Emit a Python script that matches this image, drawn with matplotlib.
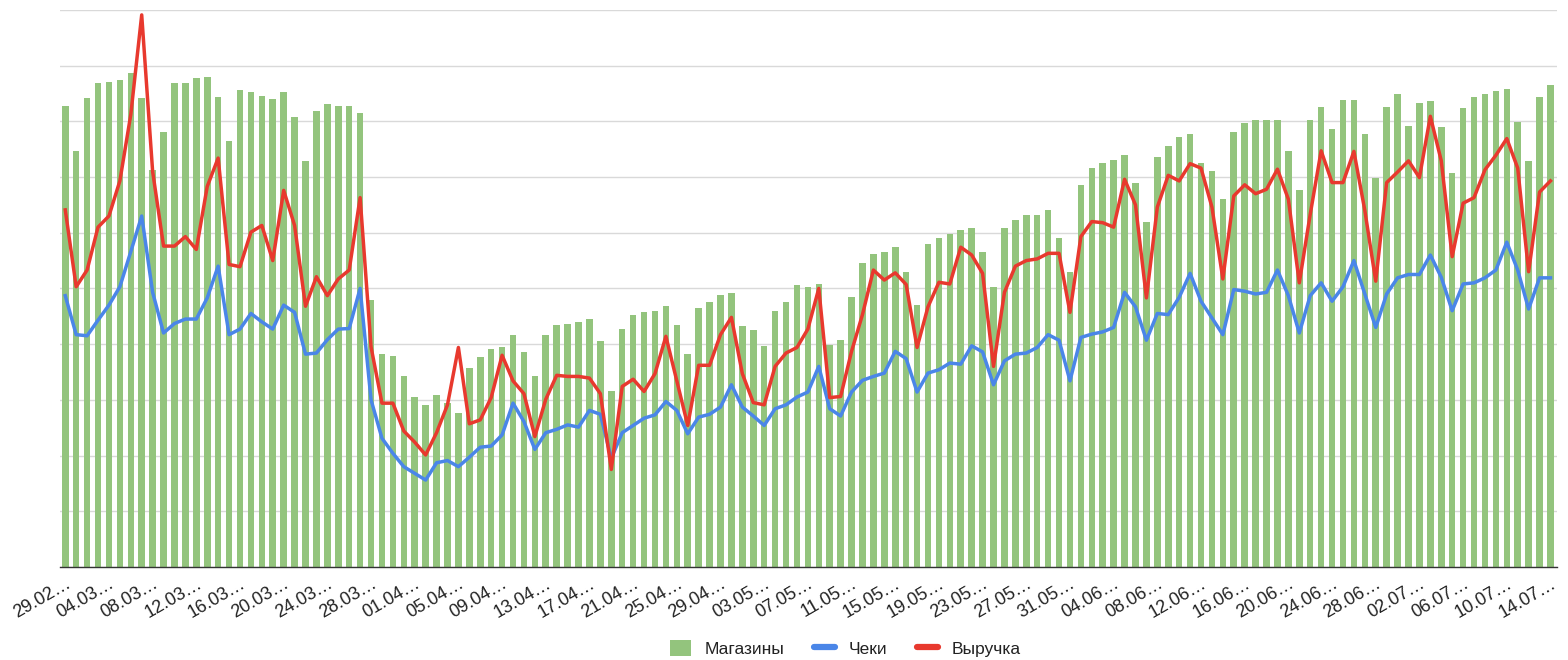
import datetime as dt

import matplotlib
matplotlib.use("Agg")
import matplotlib.pyplot as plt
from matplotlib.patches import Patch
from matplotlib.lines import Line2D

plt.rcParams["font.family"] = ["Liberation Sans", "DejaVu Sans"]

# daily values from 29.02 to 14.07, in gridline units (0..10)
start = dt.date(2020, 2, 29)

stores = [
    8.28, 7.46, 8.42, 8.68, 8.71, 8.75, 8.87, 8.42, 7.13, 7.81, 8.68, 8.68, 8.77, 8.80, 8.44, 7.65, 8.57,
    8.52, 8.46, 8.40, 8.52, 8.08, 7.28, 8.18, 8.31, 8.28, 8.28, 8.15, 4.79, 3.82, 3.79, 3.42, 3.05, 2.91,
    3.09, 2.95, 2.77, 3.57, 3.77, 3.92, 3.94, 4.17, 3.86, 3.42, 4.17, 4.34, 4.37, 4.39, 4.45, 4.06, 3.16,
    4.28, 4.53, 4.57, 4.60, 4.68, 4.34, 3.82, 4.65, 4.75, 4.88, 4.91, 4.32, 4.25, 3.97, 4.60, 4.75, 5.06,
    5.03, 5.08, 3.98, 4.08, 4.85, 5.45, 5.61, 5.65, 5.74, 5.30, 4.71, 5.80, 5.91, 5.98, 6.05, 6.08, 5.66,
    5.03, 6.08, 6.22, 6.31, 6.31, 6.40, 5.90, 5.30, 6.86, 7.16, 7.25, 7.31, 7.39, 6.89, 6.20, 7.36, 7.56,
    7.71, 7.77, 7.26, 7.11, 6.60, 7.81, 7.97, 8.03, 8.03, 8.03, 7.46, 6.76, 8.03, 8.26, 7.86, 8.39,
    8.39, 7.78, 6.99, 8.26, 8.49, 7.91, 8.32, 8.37, 7.89, 7.08, 8.24, 8.44, 8.49, 8.54, 8.58, 7.99, 7.29, 8.44, 8.66,
]

receipts = [
    4.87, 4.17, 4.15, 4.43, 4.70, 5.03, 5.66, 6.30, 4.93, 4.20, 4.37, 4.45, 4.45, 4.83, 5.40, 4.17, 4.27,
    4.55, 4.40, 4.27, 4.70, 4.57, 3.82, 3.84, 4.08, 4.27, 4.28, 5.00, 3.00, 2.31, 2.04, 1.80, 1.68, 1.56,
    1.87, 1.91, 1.80, 1.97, 2.15, 2.17, 2.37, 2.94, 2.61, 2.11, 2.41, 2.47, 2.55, 2.51, 2.81, 2.74, 1.95,
    2.41, 2.54, 2.67, 2.73, 2.97, 2.81, 2.39, 2.69, 2.74, 2.87, 3.27, 2.87, 2.71, 2.54, 2.84, 2.91, 3.05,
    3.14, 3.60, 2.84, 2.71, 3.14, 3.35, 3.42, 3.48, 3.87, 3.74, 3.14, 3.48, 3.54, 3.66, 3.64, 3.97, 3.86,
    3.27, 3.70, 3.82, 3.84, 3.94, 4.17, 4.07, 3.34, 4.12, 4.18, 4.22, 4.30, 4.93, 4.67, 4.07, 4.55, 4.53,
    4.84, 5.27, 4.77, 4.47, 4.17, 4.98, 4.95, 4.90, 4.93, 5.33, 4.87, 4.20, 4.87, 5.10, 4.77, 5.03,
    5.50, 4.90, 4.30, 4.90, 5.19, 5.25, 5.25, 5.60, 5.20, 4.60, 5.08, 5.10, 5.19, 5.33, 5.83, 5.33, 4.63, 5.19, 5.19,
]

revenue = [
    6.41, 5.03, 5.33, 6.10, 6.30, 6.93, 8.12, 9.91, 7.10, 5.76, 5.76, 5.93, 5.70, 6.83, 7.34, 5.43, 5.39,
    6.01, 6.13, 5.50, 6.76, 6.13, 4.68, 5.21, 4.87, 5.17, 5.33, 6.63, 3.95, 2.94, 2.94, 2.44, 2.24, 2.01,
    2.41, 2.91, 3.94, 2.57, 2.64, 3.04, 3.80, 3.34, 3.11, 2.34, 3.01, 3.44, 3.42, 3.42, 3.39, 3.11, 1.75,
    3.24, 3.37, 3.15, 3.47, 4.14, 3.34, 2.54, 3.62, 3.62, 4.17, 4.48, 3.47, 2.95, 2.91, 3.60, 3.84, 3.94,
    4.27, 5.00, 3.04, 3.06, 3.87, 4.53, 5.33, 5.15, 5.28, 5.07, 3.94, 4.67, 5.11, 5.08, 5.74, 5.60, 5.27,
    3.60, 4.93, 5.40, 5.50, 5.53, 5.63, 5.63, 4.57, 5.93, 6.20, 6.18, 6.10, 6.96, 6.50, 4.83, 6.46, 7.03,
    6.93, 7.24, 7.16, 6.46, 5.17, 6.66, 6.86, 6.70, 6.78, 7.14, 6.60, 5.10, 6.33, 7.47, 6.90, 6.90,
    7.46, 6.40, 5.13, 6.90, 7.09, 7.29, 6.99, 8.09, 7.29, 5.57, 6.53, 6.63, 7.13, 7.39, 7.69, 7.16, 5.30, 6.73, 6.93,
]

dates = [start + dt.timedelta(days=i) for i in range(len(stores))]
tick_idx = list(range(0, len(dates), 4))
tick_labels = [dates[i].strftime("%d.%m") + "\u2026" for i in tick_idx]

GREEN = "#93c47d"
BLUE = "#4a86e8"
RED = "#e8392e"

fig = plt.figure(figsize=(15.68, 6.6), dpi=100)
ax = fig.add_axes([0.038, 0.141, 0.955, 0.844])

x = list(range(len(dates)))
ax.bar(x, stores, width=0.6, color=GREEN, zorder=2)
ax.plot(x, receipts, color=BLUE, lw=2.5, zorder=3, solid_joinstyle="round")
ax.plot(x, revenue, color=RED, lw=2.5, zorder=4, solid_joinstyle="round")

ax.set_ylim(0, 10)
ax.set_xlim(-0.52, 136.6)
ax.set_yticks(range(0, 11))
ax.set_yticklabels([])
ax.tick_params(axis="y", length=0)
ax.grid(axis="y", color="#d9d9d9", lw=1, zorder=0)

ax.set_xticks(tick_idx)
ax.set_xticklabels(tick_labels, rotation=30, ha="right", va="top",
                   rotation_mode="anchor", fontsize=13, color="#222222")
ax.tick_params(axis="x", length=0, pad=6)

for side in ("top", "right", "left"):
    ax.spines[side].set_visible(False)
ax.spines["bottom"].set_color("#333333")
ax.spines["bottom"].set_linewidth(1)

handles = [
    Patch(facecolor=GREEN, edgecolor="none"),
    Line2D([0], [0], color=BLUE, lw=4.5, solid_capstyle="round"),
    Line2D([0], [0], color=RED, lw=4.5, solid_capstyle="round"),
]
fig.legend(handles, ["Магазины", "Чеки", "Выручка"], loc="center",
           bbox_to_anchor=(0.539, 0.018), ncol=3, frameon=False,
           fontsize=12.5, handlelength=1.2, handleheight=1.1,
           columnspacing=1.7, handletextpad=0.8, labelcolor="#222222")

fig.savefig("out.png", dpi=100, facecolor="white")
